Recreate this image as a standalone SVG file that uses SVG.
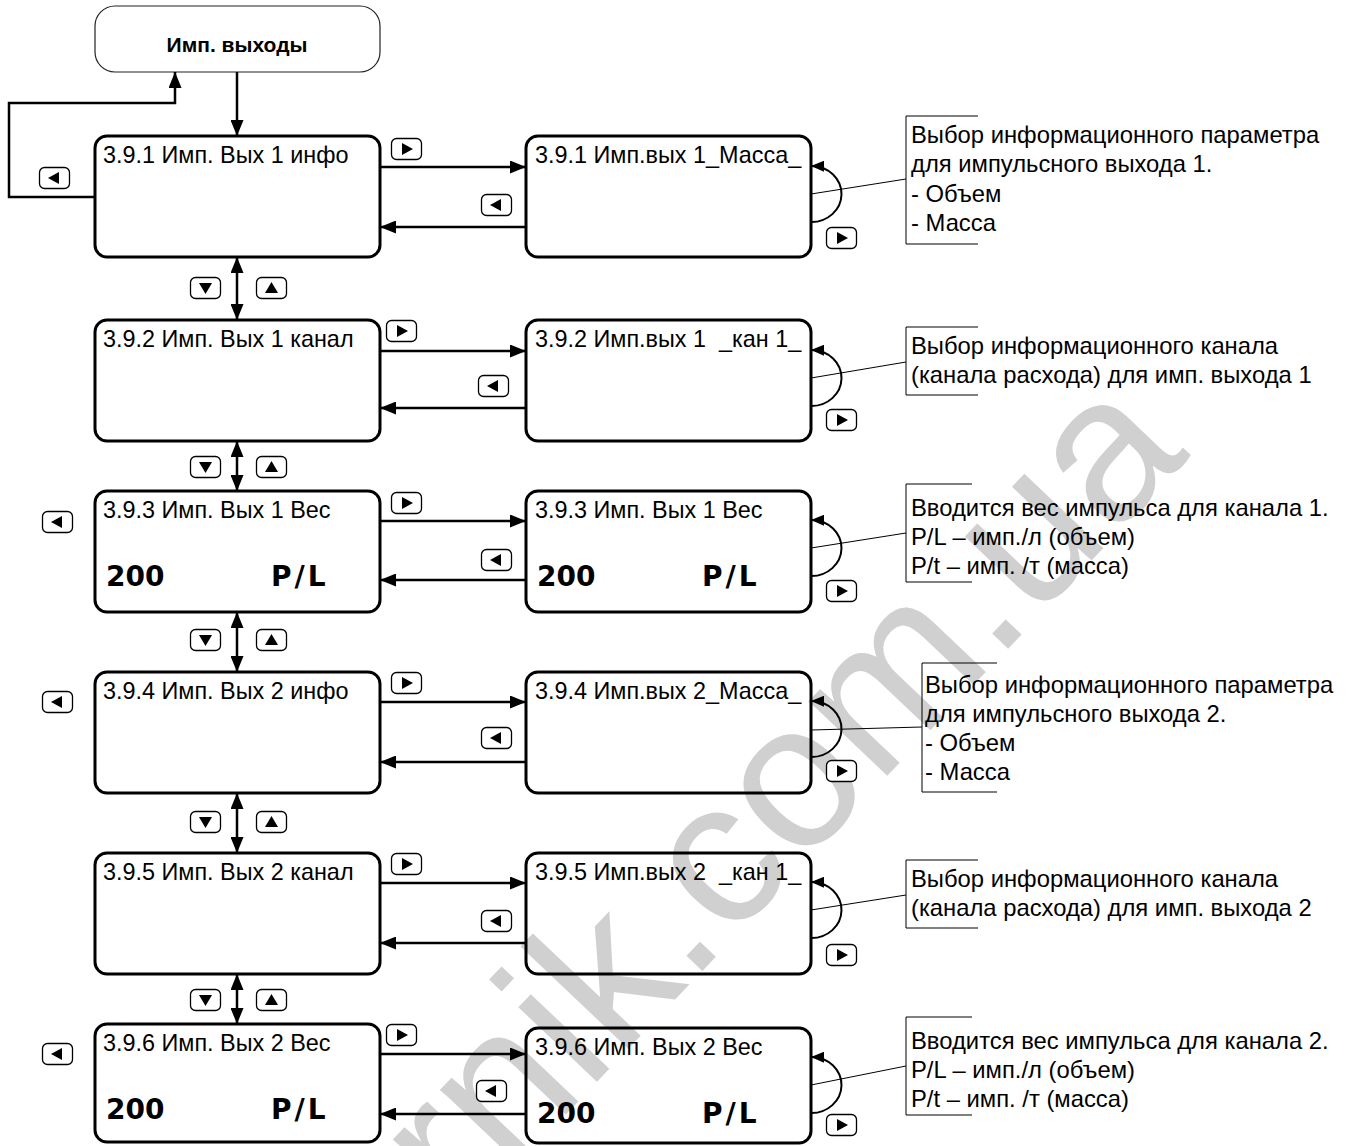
<svg xmlns="http://www.w3.org/2000/svg" width="1348" height="1146" viewBox="0 0 1348 1146">
<style>
.box{fill:none;stroke:#000;stroke-width:3}
.top{fill:#fff;stroke:#222;stroke-width:1.2}
.t{font-family:"Liberation Sans",Arial,sans-serif;font-size:23.4px;fill:#000}
.a{font-family:"Liberation Sans",Arial,sans-serif;font-size:23.8px;fill:#000}
.big{font-family:"DejaVu Sans",Verdana,sans-serif;font-size:28px;font-weight:bold;fill:#000}
.pl{letter-spacing:3px}
.ttl{font-family:"Liberation Sans",Arial,sans-serif;font-size:21px;font-weight:bold;fill:#000}
.c{fill:none;stroke:#000;stroke-width:2.5}
.lp{fill:none;stroke:#000;stroke-width:2}
.ld{fill:none;stroke:#000;stroke-width:1}
.br{fill:none;stroke:#000;stroke-width:1}
.bt{fill:#fff;stroke:#000;stroke-width:1.3}
.wm{font-family:"Liberation Sans",Arial,sans-serif;font-size:205px;fill:#d0d0d0}
</style>
<defs>
<marker id="ah" viewBox="0 0 16 13" refX="16" refY="6.5" markerWidth="16" markerHeight="13" markerUnits="userSpaceOnUse" orient="auto-start-reverse"><path d="M0,0 L16,6.5 L0,13 z" fill="#000"/></marker>
<marker id="ahs" viewBox="0 0 13 11" refX="12" refY="5.5" markerWidth="13" markerHeight="11" markerUnits="userSpaceOnUse" orient="auto"><path d="M0,0 L13,5.5 L0,11 z" fill="#000"/></marker>
<g id="bR"><rect class="bt" x="0.5" y="0.5" width="30" height="21" rx="5"/><path d="M11,5 L22,11 L11,17 z" fill="#000"/></g>
<g id="bL"><rect class="bt" x="0.5" y="0.5" width="30" height="21" rx="5"/><path d="M20,5 L9,11 L20,17 z" fill="#000"/></g>
<g id="bD"><rect class="bt" x="0.5" y="0.5" width="30" height="21" rx="5"/><path d="M9,6 L22,6 L15.5,17 z" fill="#000"/></g>
<g id="bU"><rect class="bt" x="0.5" y="0.5" width="30" height="21" rx="5"/><path d="M9,16 L22,16 L15.5,5 z" fill="#000"/></g>
</defs>
<rect width="1348" height="1146" fill="#fff"/>
<text class="wm" transform="translate(462,1224) rotate(-46.5)">rnik.com.ua</text>

<g id="start">
<rect class="top" x="95" y="6" width="285" height="66" rx="20"/>
<text class="ttl" x="237" y="52" text-anchor="middle">Имп. выходы</text>
</g>

<g id="n391"><rect class="box" x="95" y="136" width="285" height="121" rx="12"/><text class="t" x="103" y="163">3.9.1 Имп. Вых 1 инфо</text></g>
<g id="n392"><rect class="box" x="95" y="320" width="285" height="121" rx="12"/><text class="t" x="103" y="347">3.9.2 Имп. Вых 1 канал</text></g>
<g id="n393"><rect class="box" x="95" y="491" width="285" height="121" rx="12"/><text class="t" x="103" y="518">3.9.3 Имп. Вых 1 Вес</text><text class="big" x="106" y="586">200</text><text class="big pl" x="271" y="586">P/L</text></g>
<g id="n394"><rect class="box" x="95" y="672" width="285" height="121" rx="12"/><text class="t" x="103" y="699">3.9.4 Имп. Вых 2 инфо</text></g>
<g id="n395"><rect class="box" x="95" y="853" width="285" height="121" rx="12"/><text class="t" x="103" y="880">3.9.5 Имп. Вых 2 канал</text></g>
<g id="n396"><rect class="box" x="95" y="1024" width="285" height="118" rx="12"/><text class="t" x="103" y="1051">3.9.6 Имп. Вых 2 Вес</text><text class="big" x="106" y="1119">200</text><text class="big pl" x="271" y="1119">P/L</text></g>

<g id="e391"><rect class="box" x="526" y="136" width="285" height="121" rx="12"/><text class="t" x="535" y="163">3.9.1 Имп.вых 1_Масса_</text></g>
<g id="e392"><rect class="box" x="526" y="320" width="285" height="121" rx="12"/><text class="t" x="535" y="347">3.9.2 Имп.вых 1&#160; _кан 1_</text></g>
<g id="e393"><rect class="box" x="526" y="491" width="285" height="121" rx="12"/><text class="t" x="535" y="518">3.9.3 Имп. Вых 1 Вес</text><text class="big" x="537" y="586">200</text><text class="big pl" x="702" y="586">P/L</text></g>
<g id="e394"><rect class="box" x="526" y="672" width="285" height="121" rx="12"/><text class="t" x="535" y="699">3.9.4 Имп.вых 2_Масса_</text></g>
<g id="e395"><rect class="box" x="526" y="853" width="285" height="121" rx="12"/><text class="t" x="535" y="880">3.9.5 Имп.вых 2&#160; _кан 1_</text></g>
<g id="e396"><rect class="box" x="526" y="1028" width="285" height="115" rx="12"/><text class="t" x="535" y="1055">3.9.6 Имп. Вых 2 Вес</text><text class="big" x="537" y="1123">200</text><text class="big pl" x="702" y="1123">P/L</text></g>

<g id="notes">
<g id="note1"><path class="br" d="M978,116 H906 V244 H978"/><text class="a"><tspan x="911" y="143">Выбор информационного параметра</tspan><tspan x="911" y="172">для импульсного выхода 1.</tspan><tspan x="911" y="202">- Объем</tspan><tspan x="911" y="231">- Масса</tspan></text></g>
<g id="note2"><path class="br" d="M978,327 H906 V395 H978"/><text class="a"><tspan x="911" y="354">Выбор информационного канала</tspan><tspan x="911" y="383">(канала расхода) для имп. выхода 1</tspan></text></g>
<g id="note3"><path class="br" d="M972,484 H906 V582 H972"/><text class="a"><tspan x="911" y="516">Вводится вес импульса для канала 1.</tspan><tspan x="911" y="545">P/L – имп./л (объем)</tspan><tspan x="911" y="574">P/t – имп. /т (масса)</tspan></text></g>
<g id="note4"><path class="br" d="M997,663 H922 V792 H997"/><text class="a"><tspan x="925" y="693">Выбор информационного параметра</tspan><tspan x="925" y="722">для импульсного выхода 2.</tspan><tspan x="925" y="751">- Объем</tspan><tspan x="925" y="780">- Масса</tspan></text></g>
<g id="note5"><path class="br" d="M978,860 H906 V928 H978"/><text class="a"><tspan x="911" y="887">Выбор информационного канала</tspan><tspan x="911" y="916">(канала расхода) для имп. выхода 2</tspan></text></g>
<g id="note6"><path class="br" d="M972,1017 H906 V1115 H972"/><text class="a"><tspan x="911" y="1049">Вводится вес импульса для канала 2.</tspan><tspan x="911" y="1078">P/L – имп./л (объем)</tspan><tspan x="911" y="1107">P/t – имп. /т (масса)</tspan></text></g>
</g>

<g id="connectors">
<path class="c" d="M237,72 V136" marker-end="url(#ah)"/>
<path class="c" d="M95,197 H9 V103 H175 V72" marker-end="url(#ah)"/>
<path class="c" d="M237,257 V320" marker-start="url(#ah)" marker-end="url(#ah)"/>
<path class="c" d="M237,441 V491" marker-start="url(#ah)" marker-end="url(#ah)"/>
<path class="c" d="M237,612 V672" marker-start="url(#ah)" marker-end="url(#ah)"/>
<path class="c" d="M237,793 V853" marker-start="url(#ah)" marker-end="url(#ah)"/>
<path class="c" d="M237,974 V1024" marker-start="url(#ah)" marker-end="url(#ah)"/>

<path class="c" d="M380,167 H526" marker-end="url(#ah)"/><path class="c" d="M526,227 H380" marker-end="url(#ah)"/>
<path class="c" d="M380,351 H526" marker-end="url(#ah)"/><path class="c" d="M526,408 H380" marker-end="url(#ah)"/>
<path class="c" d="M380,521 H526" marker-end="url(#ah)"/><path class="c" d="M526,580 H380" marker-end="url(#ah)"/>
<path class="c" d="M380,702 H526" marker-end="url(#ah)"/><path class="c" d="M526,762 H380" marker-end="url(#ah)"/>
<path class="c" d="M380,883 H526" marker-end="url(#ah)"/><path class="c" d="M526,943 H380" marker-end="url(#ah)"/>
<path class="c" d="M380,1054 H526" marker-end="url(#ah)"/><path class="c" d="M526,1114 H380" marker-end="url(#ah)"/>

<path class="lp" d="M811,222 A30 28 0 0 0 812,166" marker-end="url(#ahs)"/>
<path class="lp" d="M811,406 A30 28 0 0 0 812,350" marker-end="url(#ahs)"/>
<path class="lp" d="M811,576 A30 28 0 0 0 812,520" marker-end="url(#ahs)"/>
<path class="lp" d="M811,757 A30 28 0 0 0 812,701" marker-end="url(#ahs)"/>
<path class="lp" d="M811,938 A30 28 0 0 0 812,882" marker-end="url(#ahs)"/>
<path class="lp" d="M811,1113 A30 28 0 0 0 812,1057" marker-end="url(#ahs)"/>

<path class="ld" d="M811,194 L906,179"/>
<path class="ld" d="M811,378 L906,362"/>
<path class="ld" d="M811,548 L906,533"/>
<path class="ld" d="M811,730 L922,727"/>
<path class="ld" d="M811,910 L906,895"/>
<path class="ld" d="M811,1085 L906,1066"/>
</g>

<g id="buttons">
<use href="#bL" x="39" y="167"/>
<use href="#bL" x="42" y="511"/>
<use href="#bL" x="42" y="691"/>
<use href="#bL" x="42" y="1043"/>

<use href="#bR" x="391" y="138"/><use href="#bL" x="481" y="194"/><use href="#bR" x="826" y="227"/>
<use href="#bR" x="386" y="320"/><use href="#bL" x="478" y="375"/><use href="#bR" x="826" y="409"/>
<use href="#bR" x="391" y="492"/><use href="#bL" x="481" y="549"/><use href="#bR" x="826" y="580"/>
<use href="#bR" x="391" y="672"/><use href="#bL" x="481" y="727"/><use href="#bR" x="826" y="760"/>
<use href="#bR" x="391" y="853"/><use href="#bL" x="481" y="910"/><use href="#bR" x="826" y="944"/>
<use href="#bR" x="386" y="1024"/><use href="#bL" x="476" y="1080"/><use href="#bR" x="826" y="1114"/>

<use href="#bD" x="190" y="277"/><use href="#bU" x="256" y="277"/>
<use href="#bD" x="190" y="456"/><use href="#bU" x="256" y="456"/>
<use href="#bD" x="190" y="629"/><use href="#bU" x="256" y="629"/>
<use href="#bD" x="190" y="811"/><use href="#bU" x="256" y="811"/>
<use href="#bD" x="190" y="989"/><use href="#bU" x="256" y="989"/>
</g>
</svg>
